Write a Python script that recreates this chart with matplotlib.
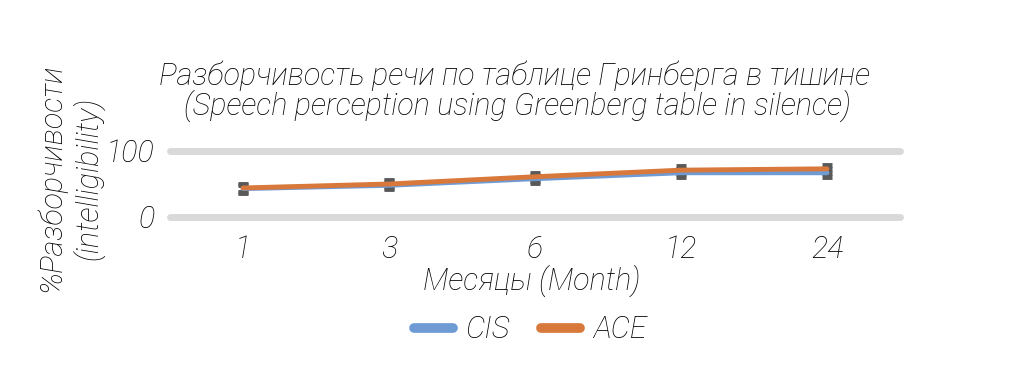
import matplotlib
matplotlib.use("Agg")
import matplotlib.pyplot as plt
from matplotlib import font_manager

categories = ["1", "3", "6", "12", "24"]
cis = [43, 48, 58, 67, 67]
ace = [44, 50, 61, 71, 73]
cis_err = [6, 6, 6, 6, 6]
ace_err = [6, 6, 6, 6, 6]
yticks = [0, 100]

fam = "Roboto"
fkw = dict(family=fam, style="italic", weight="light", color="black")
FS = 22

fig = plt.figure(figsize=(10.12, 3.92), dpi=100)
ax = fig.add_axes([170/1012, 1-217/392, 730/1012, 66/392])
x = list(range(len(categories)))

for vals, e in ((cis, cis_err), (ace, ace_err)):
    ax.errorbar(x, vals, yerr=e, fmt="none", ecolor="#595959", elinewidth=3.5,
                capsize=3.5, capthick=3.5, zorder=2)
ax.plot(x, cis, color="#6f9bd5", lw=3.5, solid_capstyle="round", label="CIS", zorder=3)
ax.plot(x, ace, color="#d8783a", lw=3.5, solid_capstyle="round", label="ACE", zorder=4)

ax.set_xlim(-0.5, 4.5)
ax.set_ylim(0, 100)
ax.set_yticks(yticks)
ax.set_xticks(x)
ax.set_xticklabels(categories, **fkw, fontsize=FS)
ax.set_yticklabels([str(v) for v in yticks], **fkw, fontsize=FS)
ax.tick_params(length=0, pad=11)
ax.tick_params(axis="x", pad=13)
for s in ax.spines.values():
    s.set_visible(False)
ax.grid(axis="y", color="#d9d9d9", lw=5, solid_capstyle="round")
for gl in ax.get_ygridlines():
    gl.set_clip_on(False)
ax.grid(axis="x", visible=False)
ax.set_axisbelow(True)

fig.text(515/1012, 1-76/392, "Разборчивость речи по таблице Гринберга в тишине", ha="center", va="center", fontsize=FS, **fkw)
fig.text(517/1012, 1-106/392, "(Speech perception using Greenberg table in silence)", ha="center", va="center", fontsize=FS, **fkw)
fig.text(51/1012, 1-178/392, "%Разборчивости", rotation=90, ha="center", va="center", fontsize=FS, **fkw)
fig.text(88/1012, 1-178/392, "(intelligibility)", rotation=90, ha="center", va="center", fontsize=FS, **fkw)
fig.text(532/1012, 1-281/392, "Месяцы (Month)", ha="center", va="center", fontsize=FS, **fkw)

leg = fig.legend(loc="center", bbox_to_anchor=(530/1012, 1-330/392), ncol=2, frameon=False,
                 prop=font_manager.FontProperties(family=fam, style="italic", weight="light", size=FS),
                 handlelength=1.3, columnspacing=1.0, handletextpad=0.4)
for t in leg.get_texts():
    t.set_color("black")
for h in leg.get_lines():
    h.set_linewidth(7)
    h.set_solid_capstyle("round")

fig.savefig("out.png", dpi=100)
